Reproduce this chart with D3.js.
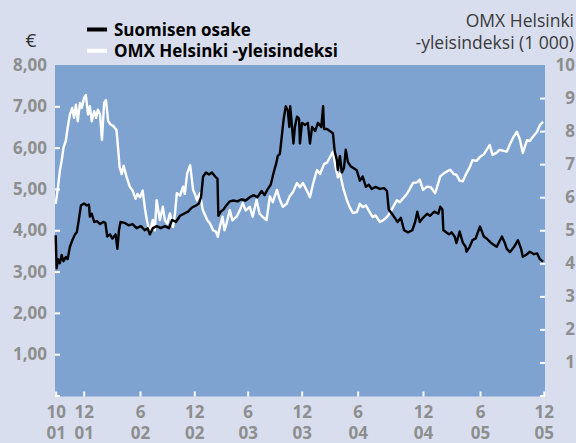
<!DOCTYPE html>
<html>
<head>
<meta charset="utf-8">
<script src="https://cdn.jsdelivr.net/npm/d3@7/dist/d3.min.js"></script>
<style>
body { margin:0; background:#d8deee }
svg { display:block }
</style>
</head>
<body>
<svg width="576" height="443"></svg>
<script>
// Suomisen osake, euroa
var osake = [
['01-10-01',3.88],['01-10-03',3.08],['01-10-06',3.3],['01-10-10',3.2],['01-10-14',3.4],['01-10-18',3.25],['01-10-23',3.35],['01-10-27',3.3],
['01-11-01',3.6],['01-11-06',3.75],['01-11-12',3.9],['01-11-16',3.95],['01-11-21',4.3],['01-11-25',4.6],
['01-12-02',4.65],['01-12-11',4.6],['01-12-18',4.62],['01-12-21',4.33],['01-12-27',4.4],
['02-01-04',4.2],['02-01-13',4.22],['02-01-23',4.15],['02-02-02',4.2],['02-02-09',4.18],['02-02-15',3.85],['02-02-24',3.9],
['02-03-04',3.8],['02-03-14',3.9],['02-03-20',3.55],['02-03-25',4.0],['02-03-30',4.2],['02-04-12',4.18],['02-04-25',4.12],
['02-05-08',4.15],['02-05-21',4.05],['02-06-04',4.1],['02-06-17',4.0],['02-06-27',4.05],['02-07-04',3.9],['02-07-14',4.05],
['02-07-27',4.1],['02-08-10',4.05],['02-08-24',4.1],['02-09-07',4.05],['02-09-17',4.25],['02-09-30',4.2],['02-10-14',4.35],
['02-10-27',4.4],['02-11-10',4.45],['02-11-23',4.55],['02-12-07',4.6],['02-12-17',4.65],['02-12-24',4.8],['02-12-31',5.3],
['03-01-10',5.4],['03-01-20',5.35],['03-01-30',5.4],['03-02-10',5.3],['03-02-18',5.25],['03-02-21',4.35],['03-03-01',4.45],
['03-03-10',4.5],['03-03-20',4.6],['03-04-01',4.7],['03-04-14',4.72],['03-04-27',4.7],['03-05-11',4.75],['03-05-25',4.72],
['03-06-08',4.8],['03-06-21',4.85],['03-07-04',4.8],['03-07-18',4.95],['03-07-28',4.85],['03-08-08',5.0],['03-08-18',5.1],
['03-08-28',5.4],['03-09-05',5.6],['03-09-11',5.8],['03-09-18',5.85],['03-09-25',6.3],['03-10-01',6.7],['03-10-08',7.0],
['03-10-15',6.9],['03-10-20',6.5],['03-10-23',7.0],['03-10-28',6.6],['03-11-03',6.1],['03-11-08',6.5],['03-11-15',6.75],
['03-11-22',6.7],['03-11-25',6.1],['03-12-02',6.6],['03-12-12',6.55],['03-12-21',6.6],['03-12-28',6.1],
['04-01-04',6.5],['04-01-14',6.4],['04-01-23',6.6],['04-02-03',6.5],['04-02-09',7.0],['04-02-12',6.45],['04-02-22',6.45],
['04-03-02',6.4],['04-03-12',6.35],['04-03-18',5.9],['04-03-25',5.7],['04-03-28',5.46],['04-04-04',5.8],['04-04-10',5.4],
['04-04-17',5.5],['04-04-23',5.95],['04-04-30',5.65],['04-05-09',5.55],['04-05-19',5.5],['04-05-29',5.45],['04-06-07',5.2],
['04-06-15',5.3],['04-06-24',5.05],['04-07-02',5.1],['04-07-10',5.0],['04-07-21',5.05],['04-08-02',5.0],['04-08-14',5.02],
['04-08-22',4.95],['04-08-27',4.5],['04-09-05',4.4],['04-09-13',4.3],['04-09-21',4.2],['04-09-30',4.3],['04-10-09',4.0],
['04-10-20',3.95],['04-11-01',4.0],['04-11-09',4.2],['04-11-15',4.45],['04-11-22',4.2],['04-12-01',4.3],['04-12-14',4.4],
['04-12-23',4.35],['05-01-06',4.45],['05-01-19',4.4],['05-01-25',4.57],['05-02-01',4.5],['05-02-04',4.0],['05-02-13',3.95],
['05-02-22',3.9],['05-03-02',3.95],['05-03-12',3.85],['05-03-18',3.69],['05-03-28',3.97],['05-04-07',3.7],['05-04-16',3.6],
['05-04-19',3.48],['05-04-29',3.6],['05-05-08',3.76],['05-05-18',3.8],['05-06-01',4.09],['05-06-12',3.85],['05-06-20',3.8],
['05-07-02',3.7],['05-07-10',3.65],['05-07-19',3.6],['05-08-03',3.85],['05-08-11',3.7],['05-08-17',3.55],['05-08-26',3.47],
['05-09-07',3.6],['05-09-18',3.76],['05-09-27',3.55],['05-10-02',3.36],['05-10-11',3.4],['05-10-22',3.48],['05-11-03',3.42],
['05-11-12',3.44],['05-11-20',3.3],['05-11-29',3.24]
]

// OMX Helsinki -yleisindeksi, tuhansina
var omx = [
['01-10-01',5.8],['01-10-06',6.3],['01-10-10',6.8],['01-10-14',7.1],['01-10-18',7.5],['01-10-23',7.7],['01-10-27',8.1],
['01-11-01',8.5],['01-11-06',8.7],['01-11-10',8.4],['01-11-14',8.8],['01-11-18',8.3],['01-11-23',8.85],['01-11-27',8.7],
['01-12-02',9.0],['01-12-08',9.09],['01-12-15',8.5],['01-12-21',8.75],['01-12-27',8.3],
['02-01-04',8.6],['02-01-10',8.4],['02-01-16',8.65],['02-01-23',8.5],['02-01-29',7.73],['02-02-05',8.85],['02-02-11',8.94],
['02-02-18',8.3],['02-02-26',8.2],['02-03-07',8.15],['02-03-17',8.03],['02-03-22',7.5],['02-03-27',6.92],['02-04-03',6.7],
['02-04-09',6.95],['02-04-19',6.6],['02-04-29',6.32],['02-05-08',6.2],['02-05-18',5.95],['02-05-24',6.1],['02-06-01',6.0],
['02-06-10',6.2],['02-06-17',5.7],['02-06-24',5.31],['02-07-04',4.91],['02-07-11',5.2],['02-07-14',5.31],['02-07-21',5.0],
['02-07-27',5.91],['02-08-07',5.31],['02-08-17',5.71],['02-08-24',5.3],['02-09-01',5.2],['02-09-10',5.51],['02-09-20',5.1],
['02-09-27',5.5],['02-10-03',6.12],['02-10-14',6.05],['02-10-24',6.32],['02-10-30',6.1],['02-11-07',6.72],['02-11-17',6.97],
['02-11-27',6.22],['02-12-03',6.1],['02-12-10',5.91],['02-12-20',6.12],['02-12-30',5.61],
['03-01-14',5.31],['03-01-24',5.2],['03-02-03',5.0],['03-02-13',4.95],['03-02-19',4.8],['03-02-26',5.1],['03-03-07',5.41],
['03-03-14',5.0],['03-03-21',5.21],['03-04-01',5.61],['03-04-10',5.3],['03-04-24',5.41],['03-05-05',5.6],['03-05-15',5.82],
['03-05-25',5.6],['03-06-08',5.71],['03-06-18',5.41],['03-07-01',5.92],['03-07-11',5.5],['03-07-21',5.41],['03-08-04',5.31],
['03-08-15',6.02],['03-08-25',5.85],['03-09-08',6.22],['03-09-18',5.92],['03-09-28',5.71],['03-10-11',5.8],['03-10-21',6.02],
['03-11-01',6.15],['03-11-15',6.43],['03-11-25',6.3],['03-12-05',6.43],['03-12-18',6.2],['03-12-28',6.0],
['04-01-07',6.4],['04-01-20',6.82],['04-01-30',6.7],['04-02-12',7.0],['04-02-22',7.05],['04-03-02',7.2],['04-03-12',7.38],
['04-03-21',6.9],['04-03-28',6.6],['04-04-04',6.73],['04-04-14',6.3],['04-04-27',5.9],['04-05-06',5.7],['04-05-16',5.52],
['04-05-29',5.55],['04-06-07',5.8],['04-06-15',5.7],['04-06-24',5.75],['04-07-02',5.6],['04-07-13',5.4],['04-07-21',5.45],
['04-08-02',5.25],['04-08-11',5.3],['04-08-22',5.4],['04-08-30',5.52],['04-09-08',5.7],['04-09-19',5.91],['04-09-27',5.85],
['04-10-09',6.0],['04-10-17',6.1],['04-10-25',6.25],['04-11-03',6.43],['04-11-14',6.45],['04-11-22',6.53],['04-12-01',6.22],
['04-12-14',6.32],['04-12-26',6.3],['05-01-09',6.12],['05-01-25',6.63],['05-02-10',6.75],['05-02-26',6.83],['05-03-09',6.7],
['05-03-18',6.68],['05-03-28',6.5],['05-04-07',6.48],['05-04-19',6.73],['05-04-29',6.9],['05-05-08',7.12],['05-05-21',7.1],
['05-06-01',7.22],['05-06-12',7.3],['05-06-20',7.43],['05-06-29',7.58],['05-07-07',7.28],['05-07-19',7.35],['05-07-27',7.43],
['05-08-08',7.4],['05-08-17',7.38],['05-08-26',7.6],['05-09-04',7.8],['05-09-15',7.98],['05-09-24',7.73],['05-10-02',7.34],
['05-10-14',7.73],['05-10-22',7.7],['05-10-31',7.83],['05-11-12',7.98],['05-11-20',8.18],['05-11-29',8.28]
]

var xTickDates = ['01-10-01','01-12-01','02-06-01','02-12-01','03-06-01','03-12-01','04-06-01','04-12-01','05-06-01','05-12-01']
var leftTicks = [0, 1, 2, 3, 4, 5, 6, 7, 8]
var rightTicks = [0, 1, 2, 3, 4, 5, 6, 7, 8, 9, 10]
var legendLabels = ['Suomisen osake', 'OMX Helsinki -yleisindeksi']
var legendColors = ['#000', '#fff']

// layout
var plot = { left:55, right:545, top:65, bottom:396.5 }
var xTickPos = [55.7, 83.7, 140, 194.3, 247.7, 301.7, 357.7, 423, 480, 543.7] // the source spaces its months unevenly
var grey = '#8e8e8e'
var font = "'Open Sans', 'Noto Sans', sans-serif"

var parse = d3.timeParse('%y-%m-%d')
var svg = d3.select('svg')

var x = d3.scaleTime().domain(xTickDates.map(parse)).range(xTickPos)
var yL = d3.scaleLinear().domain([0, 8]).range([395.5, plot.top])
var yR = d3.scaleLinear().domain([0, 10]).range([395.5, plot.top])

svg.append('rect')
    .attr('x', plot.left).attr('y', plot.top)
    .attr('width', plot.right - plot.left).attr('height', plot.bottom - plot.top)
    .attr('fill', '#7fa3d0')

// axes: white ticks point into the plot
var styleAxis = function(g) {
    g.select('.domain').remove()
    g.selectAll('line').attr('stroke', '#fff').attr('stroke-width', 2)
    g.selectAll('text').attr('fill', grey).attr('font-family', font)
        .attr('font-weight', 700).attr('font-size', 17)
}

svg.append('g')
    .attr('transform', 'translate(' + plot.left + ',0)')
    .call(d3.axisLeft(yL).tickValues(leftTicks).tickSizeInner(-5).tickSizeOuter(0).tickPadding(8)
        .tickFormat(function(d) { return d == 0 ? '' : d3.format('.2f')(d).replace('.', ',') }))
    .call(styleAxis)
    .call(function(g) {
        g.selectAll('.tick').filter(function(d) { return d == 8 }).select('line').remove()
    })

svg.append('g')
    .attr('transform', 'translate(' + plot.right + ',0)')
    .call(d3.axisRight(yR).tickValues(rightTicks).tickSizeInner(-5).tickSizeOuter(0)
        .tickFormat(function(d) { return d == 0 ? '' : d }))
    .call(styleAxis)
    .call(function(g) {
        g.selectAll('text').attr('text-anchor', 'end').attr('x', 30)
        g.selectAll('.tick').filter(function(d) { return d == 10 }).select('line').remove()
    })

// month over year, one two-line label per tick
var fmtM = d3.timeFormat('%-m'), fmtY = d3.timeFormat('%y')
svg.append('g')
    .attr('transform', 'translate(0,' + plot.bottom + ')')
    .call(d3.axisBottom(x).tickValues(xTickDates.map(parse)).tickSizeInner(-5).tickSizeOuter(0).tickFormat(''))
    .call(styleAxis)
    .call(function(g) {
        g.selectAll('.tick text').remove()
        var t = g.selectAll('.tick').append('text')
            .attr('text-anchor', 'middle').attr('fill', grey)
            .attr('font-family', font).attr('font-weight', 700).attr('font-size', 17)
        t.append('tspan').attr('x', 0).attr('y', 21.3).text(function(d) { return fmtM(d) })
        t.append('tspan').attr('x', 0).attr('y', 42.3).text(function(d) { return fmtY(d) })
    })

// series, index under the share
var line = function(yScale) {
    return d3.line()
        .x(function(d) { return x(parse(d[0])) })
        .y(function(d) { return yScale(d[1]) })
}
svg.append('path').datum(omx)
    .attr('d', line(yR)).attr('fill', 'none')
    .attr('stroke', '#fff').attr('stroke-width', 2.4).attr('stroke-linejoin', 'round')
svg.append('path').datum(osake)
    .attr('d', line(yL)).attr('fill', 'none')
    .attr('stroke', '#000').attr('stroke-width', 2.4).attr('stroke-linejoin', 'round')

// legend
var legendY = function(i) { return 29.5 + i * 21.3 }
svg.selectAll('.swatch').data(legendColors).enter().append('line')
    .attr('class', 'swatch')
    .attr('x1', 87).attr('x2', 107)
    .attr('y1', function(d, i) { return legendY(i) }).attr('y2', function(d, i) { return legendY(i) })
    .attr('stroke', function(d) { return d }).attr('stroke-width', 4)
svg.append('text')
    .attr('font-family', font).attr('font-weight', 700).attr('font-size', 17).attr('fill', '#000')
    .selectAll('tspan').data(legendLabels).enter().append('tspan')
    .attr('x', 114).attr('y', function(d, i) { return legendY(i) + 6.2 })
    .text(function(d) { return d })

// axis titles
svg.append('text').attr('x', 31).attr('y', 47).attr('text-anchor', 'middle')
    .attr('font-family', font).attr('font-size', 19).attr('fill', '#333').text('€')
var rt = svg.append('text').attr('text-anchor', 'end')
    .attr('font-family', font).attr('font-size', 17.5).attr('fill', '#3a3a3a')
rt.append('tspan').attr('x', 574).attr('y', 27).text('OMX Helsinki')
rt.append('tspan').attr('x', 574).attr('y', 49).text('-yleisindeksi (1 000)')
</script>
</body>
</html>
